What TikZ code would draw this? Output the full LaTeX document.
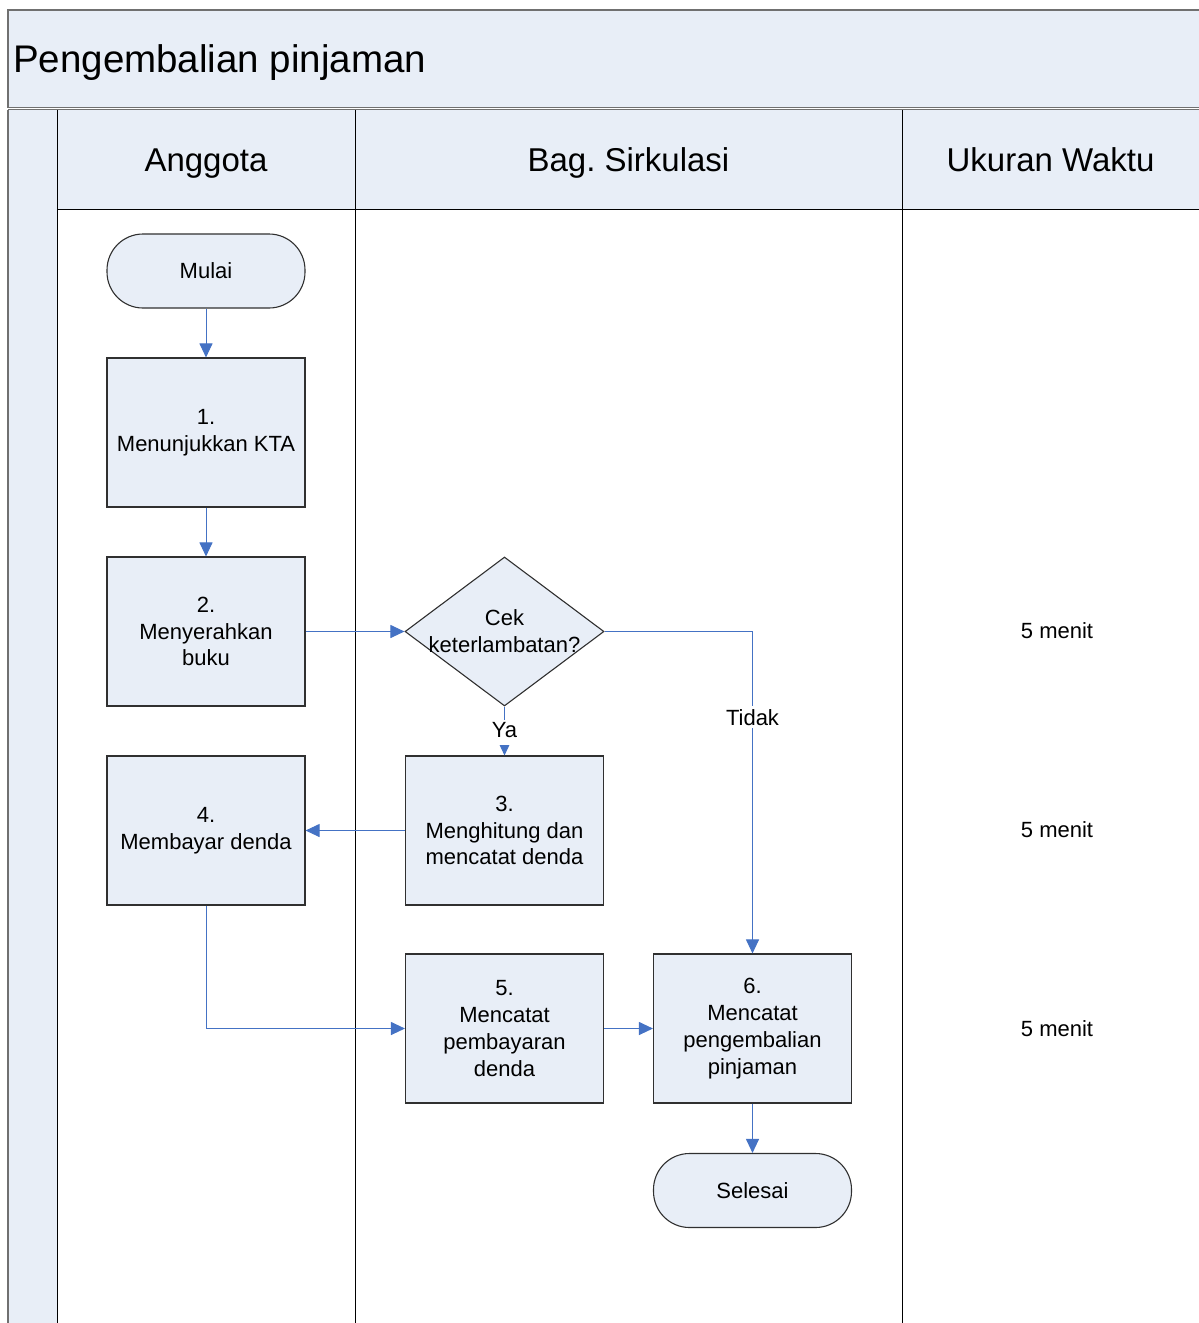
\documentclass[tikz,border=0pt]{standalone}
\usepackage{fontspec}
\setmainfont{Liberation Sans}
\usetikzlibrary{arrows.meta,shapes.geometric}

\definecolor{lanefill}{HTML}{E8EEF7}
\definecolor{flowblue}{HTML}{4472C4}
\definecolor{boxline}{HTML}{303030}
\definecolor{bandline}{HTML}{707070}

\tikzset{
  bodytext/.style={font=\fontsize{22}{26.8}\selectfont, align=center},
  process/.style={bodytext, draw=boxline, line width=1.1pt, fill=lanefill,
    minimum width=198pt, minimum height=149pt, inner sep=0pt},
  terminal/.style={bodytext, draw=boxline, line width=1.1pt, fill=lanefill,
    rectangle, rounded corners=36pt, minimum width=198pt, minimum height=74pt, inner sep=0pt},
  decision/.style={draw=boxline, line width=1.1pt, fill=lanefill, diamond,
    minimum width=199pt, minimum height=149pt, inner sep=0pt},
  flow/.style={draw=flowblue, line width=1pt,
    -{Triangle[length=14pt,width=13pt,fill=flowblue]}},
  flowlabel/.style={bodytext, fill=white, inner sep=3pt},
  lanerule/.style={draw=black, line width=1pt},
  headtext/.style={font=\fontsize{33}{38}\selectfont, anchor=base},
}

\begin{document}
\begin{tikzpicture}[x=1pt, y=-1pt]
\useasboundingbox (0,0) rectangle (1199,1323);

% title band
\fill[lanefill] (8,10) rectangle (1210,108);
\draw[bandline, line width=1.2pt] (1210,10) -- (8,10) -- (8,108);
\draw[bandline, line width=1pt] (8,107.2) -- (1210,107.2);
\draw[bandline, line width=1pt] (8,109.8) -- (1210,109.8);
\node[font=\fontsize{38.5}{44}\selectfont, anchor=base west, inner sep=0pt]
  (title) at (13,72) {Pengembalian pinjaman};

% left strip and header row
\fill[lanefill] (8,110.3) rectangle (57,1330);
\fill[lanefill] (57,110.3) rectangle (1210,209);
\draw[bandline, line width=1.2pt] (8,110) -- (8,1330);
\draw[lanerule] (57,110) -- (57,1330);
\draw[lanerule] (57,209) -- (1210,209);
\draw[lanerule] (355,110) -- (355,1330);
\draw[lanerule] (902,110) -- (902,1330);

\node[headtext] (hA) at (206,171) {Anggota};
\node[headtext] (hB) at (628.5,171) {Bag.\ Sirkulasi};
\node[headtext] (hC) at (1050.5,171) {Ukuran Waktu};

% flow nodes
\node[terminal] (mulai) at (206,271) {Mulai};
\node[process] (b1) at (206,432.5) {1.\\Menunjukkan KTA};
\node[process] (b2) at (206,631.5) {2.\\Menyerahkan\\buku};
\node[decision] (chk) at (504.5,631.5) {};
\node[bodytext] (chktext) at (chk) {Cek\\keterlambatan?};
\node[process] (b3) at (504.5,830.5) {3.\\Menghitung dan\\mencatat denda};
\node[process] (b4) at (206,830.5) {4.\\Membayar denda};
\node[process] (b5) at (504.5,1028.5) {5.\\Mencatat\\pembayaran\\denda};
\node[process] (b6) at (752.5,1028.5) {6.\\Mencatat\\pengembalian\\pinjaman};
\node[terminal] (sel) at (752.5,1190.5) {Selesai};

% time column
\node[bodytext] (t1) at (1057,631) {5 menit};
\node[bodytext] (t2) at (1057,830) {5 menit};
\node[bodytext] (t3) at (1057,1029) {5 menit};

% connectors
\draw[flow] (chk.south) -- (b3.north)
  node[flowlabel, pos=0.53, text height=16pt, text depth=5pt,
       inner xsep=4pt, inner ysep=2pt] (ya) {Ya};
\draw[flow] (mulai) -- (b1);
\draw[flow] (b1) -- (b2);
\draw[flow] (b2) -- (chk.west);
\draw[flow] (chk.east) -| (b6.north)
  node[flowlabel, pos=0.633] (tidak) {Tidak};
\draw[flow] (b3.west) -- (b4.east);
\draw[flow] (b4.south) |- (b5.west);
\draw[flow] (b5.east) -- (b6.west);
\draw[flow] (b6.south) -- (sel.north);
\end{tikzpicture}
\end{document}
